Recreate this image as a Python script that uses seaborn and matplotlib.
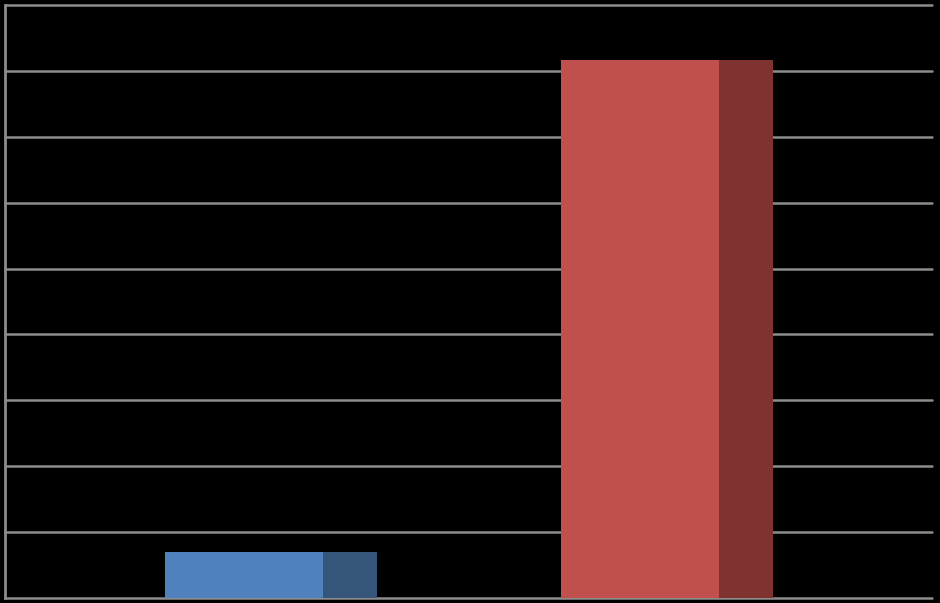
import pandas as pd
import matplotlib
matplotlib.use("Agg")
import matplotlib.pyplot as plt
import seaborn as sns

categories = ["A", "B"]
values = [0.70, 8.16]
front_colors = ["#4F81BD", "#C0504D"]
side_colors = ["#36557A", "#7F3331"]

df = pd.DataFrame({"category": categories, "value": values})

sns.set_style("dark")
fig = plt.figure(figsize=(9.4, 6.03), dpi=100, facecolor="black")
ax = fig.add_axes([5 / 940, 5 / 603, 927 / 940, 593 / 603])
ax.set_facecolor("black")

# dark side of the bar (full depth), then the front face on top
full_w = 0.536
front_w = 0.40
sns.barplot(data=df, x="category", y="value", hue="category", palette=side_colors,
            width=full_w, legend=False, ax=ax, saturation=1)
n_side = len(ax.patches)
sns.barplot(data=df, x="category", y="value", hue="category", palette=front_colors,
            width=front_w, legend=False, ax=ax, saturation=1)
for p in ax.patches[n_side:]:
    p.set_x(p.get_x() - (full_w - front_w) / 2)
for p in ax.patches:
    p.set_linewidth(0)

ax.set_xlim(-0.6726, 1.671)
ax.set_ylim(0, 9)
ax.set_yticks(range(0, 10))
ax.yaxis.grid(True, color="#8c8c8c", linewidth=1.8)
for gl in ax.get_ygridlines():
    gl.set_clip_on(False)
ax.xaxis.grid(False)
ax.set_axisbelow(True)
ax.tick_params(axis="y", length=4, width=1.2, color="#8c8c8c", labelleft=False)
ax.tick_params(axis="x", length=0, labelbottom=False)
ax.set_xlabel("")
ax.set_ylabel("")
for s in ["top", "right", "bottom"]:
    ax.spines[s].set_visible(False)
ax.spines["left"].set_color("#8c8c8c")
ax.spines["left"].set_linewidth(2)

plt.savefig("out.png", dpi=100, facecolor="black")
